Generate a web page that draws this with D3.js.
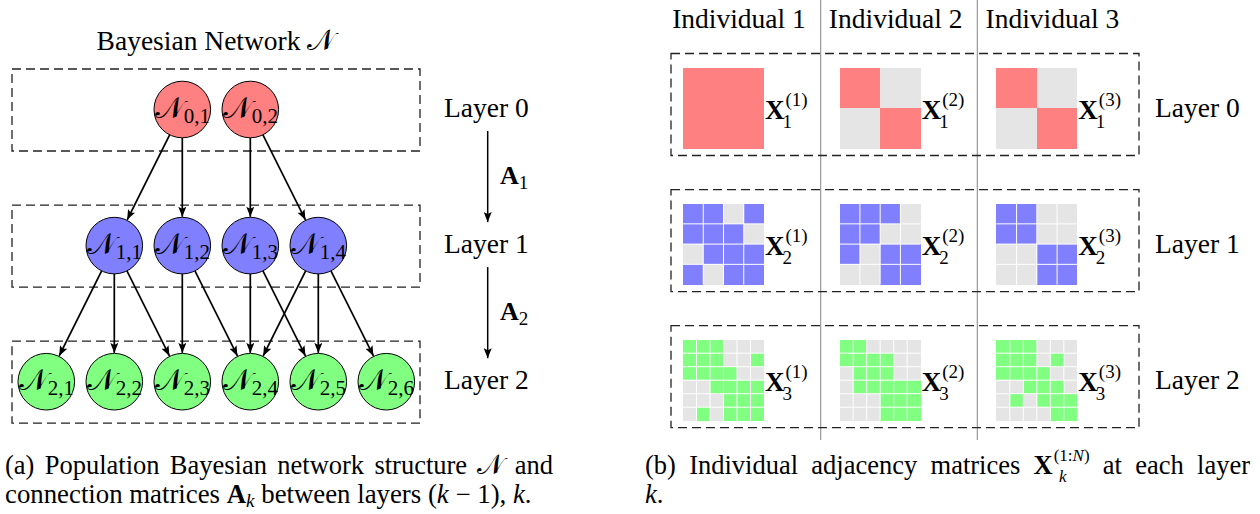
<!DOCTYPE html>
<html><head><meta charset="utf-8">
<script src="https://cdn.jsdelivr.net/npm/d3@7"></script>
<style>
body{margin:0;background:#fff}
svg{display:block}
text{fill:#000}
</style>
</head><body><svg id="c" width="1260" height="514"></svg>
<script>
// ---------------- data ----------------
const layers = ["Layer 0", "Layer 1", "Layer 2"];
const layerSizes = [2, 4, 6];
const layerColors = ["#ff8080", "#8080ff", "#80ff80"];
const offColor = "#e5e5e5";
const edgesA1 = [[1,1],[1,2],[2,3],[2,4]];
const edgesA2 = [[1,1],[1,2],[1,3],[2,3],[2,4],[3,4],[3,5],[4,4],[4,5],[4,6]];
const individuals = ["Individual 1", "Individual 2", "Individual 3"];
const X1 = [
  [[1,1],[1,1]],
  [[1,0],[0,1]],
  [[1,0],[0,1]]
];
const X2 = [
  [[1,1,0,1],[1,1,1,0],[0,1,1,1],[1,0,1,1]],
  [[1,1,1,0],[1,1,0,0],[1,0,1,1],[0,0,1,1]],
  [[1,1,0,0],[1,1,0,0],[0,0,1,1],[0,0,1,1]]
];
const X3 = [
  [[1,1,1,0,0,0],[1,1,1,0,0,1],[1,1,1,1,0,0],[0,0,1,1,1,1],[0,0,0,1,1,1],[0,1,0,1,1,1]],
  [[1,1,0,0,0,0],[1,1,1,1,0,0],[0,1,1,1,0,0],[0,1,1,1,1,1],[0,0,0,1,1,1],[0,0,0,1,1,1]],
  [[1,1,1,0,0,0],[1,1,1,0,1,0],[1,1,1,1,0,0],[0,0,1,1,1,0],[0,1,0,1,1,1],[0,0,0,0,1,1]]
];
const matrices = [X1, X2, X3];

// ---------------- helpers ----------------
const svg = d3.select("#c");
const CAL = "𝒩";
const FONT = "'Liberation Serif', 'DejaVu Serif', serif";
const BASE = 27.5;

function rich(parent, x, y, runs, anchor = "start", base = BASE, justify = null) {
  const g = parent.append("g");
  function layout(ws) {
    g.selectAll("*").remove();
    let cx = 0, prevStart = 0, prevEnd = 0;
    runs.forEach(r => {
      const size = r.s || base;
      const start = (r.stack ? prevStart : cx) + (r.dx || 0);
      const t = g.append("text")
        .attr("x", start).attr("y", r.dy || 0)
        .attr("font-size", size)
        .attr("font-weight", r.b ? "bold" : null)
        .attr("font-style", r.i ? "italic" : null)
        .attr("xml:space", "preserve")
        .style("white-space", "pre")
        .style("font-family", r.f || FONT)
        .style("word-spacing", ws ? ws + "px" : null)
        .text(r.t);
      const w = t.node().getComputedTextLength();
      if (r.stack) { cx = Math.max(prevEnd, start + w); }
      else { prevStart = start; prevEnd = start + w; cx = start + w; }
    });
    return cx;
  }
  let cx = layout(0);
  if (justify) {
    const nsp = runs.reduce((s, r) => s + (r.t.match(/ /g) || []).length, 0);
    if (nsp) cx = layout((justify - cx) / nsp);
  }
  const off = anchor === "middle" ? -cx / 2 : anchor === "end" ? -cx : 0;
  g.attr("transform", `translate(${x + off},${y})`);
  return g;
}

// ---------------- left panel: network ----------------
const R = 28.3;
const xSlot = d3.scaleLinear().domain([0, 5]).range([46.3, 386.3]);
const yLayer = d3.scalePoint().domain(layers).range([109.5, 381.7]);

const nodes = [];
layerSizes.forEach((n, k) => {
  for (let i = 1; i <= n; i++) nodes.push({ layer: k, idx: i, slot: i - 1 + (6 - n) / 2 });
});
const nodeAt = (k, i) => nodes.find(d => d.layer === k && d.idx === i);
const nx = d => xSlot(d.slot), ny = d => yLayer(layers[d.layer]);

const left = svg.append("g");

rich(left, 216, 50, [{ t: "Bayesian Network " }, { t: CAL, s: 29 }], "middle");

left.selectAll("rect.lbox").data(layers).join("rect")
  .attr("x", 12).attr("width", 408)
  .attr("y", d => yLayer(d) - 40.5).attr("height", 82)
  .attr("fill", "none").attr("stroke", "#222").attr("stroke-width", 1.3)
  .attr("stroke-dasharray", "9,5");

const defs = svg.append("defs");
defs.append("marker").attr("id", "ah")
  .attr("viewBox", "0 0 10 8").attr("refX", 10).attr("refY", 4)
  .attr("markerUnits", "userSpaceOnUse").attr("markerWidth", 10).attr("markerHeight", 8)
  .attr("orient", "auto")
  .append("path").attr("d", "M0,0 L10,4 L0,8 L2,4 Z").attr("fill", "#000");

const edges = [
  ...edgesA1.map(([a, b]) => ({ s: nodeAt(0, a), t: nodeAt(1, b) })),
  ...edgesA2.map(([a, b]) => ({ s: nodeAt(1, a), t: nodeAt(2, b) }))
];
left.selectAll("line.edge").data(edges).join("line")
  .each(function (d) {
    const x1 = nx(d.s), y1 = ny(d.s), x2 = nx(d.t), y2 = ny(d.t);
    const L = Math.hypot(x2 - x1, y2 - y1), ux = (x2 - x1) / L, uy = (y2 - y1) / L;
    d3.select(this)
      .attr("x1", x1 + ux * R).attr("y1", y1 + uy * R)
      .attr("x2", x2 - ux * (R + 0.5)).attr("y2", y2 - uy * (R + 0.5));
  })
  .attr("stroke", "#000").attr("stroke-width", 1.7).attr("marker-end", "url(#ah)");

left.selectAll("circle.node").data(nodes).join("circle")
  .attr("cx", nx).attr("cy", ny).attr("r", R)
  .attr("fill", d => layerColors[d.layer]).attr("stroke", "#000").attr("stroke-width", 1);

nodes.forEach(d => {
  rich(left, nx(d), ny(d) + 8, [{ t: CAL, s: 30 }, { t: `${d.layer},${d.idx}`, s: 21, dy: 5 }], "middle");
});

layers.forEach(l => rich(left, 444, yLayer(l) + 7, [{ t: l }]));
const aLabels = ["1", "2"];
aLabels.forEach((a, i) => {
  const y0 = yLayer(layers[i]), y1 = yLayer(layers[i + 1]);
  left.append("line").attr("x1", 487.7).attr("x2", 487.7)
    .attr("y1", y0 + 21.5).attr("y2", y1 - 23.5)
    .attr("stroke", "#000").attr("stroke-width", 1.5).attr("marker-end", "url(#ah)");
  rich(left, 500, (y0 + y1) / 2 + 6, [{ t: "A", b: true, s: 26 }, { t: a, s: 19, dy: 5 }]);
});

rich(left, 5, 474, [{ t: "(a) Population Bayesian network structure " }, { t: CAL, s: 28 }, { t: " and" }], "start", 26.5, 548);
rich(left, 5, 503, [{ t: "connection matrices " }, { t: "A", b: true }, { t: "k", i: true, s: 19, dy: 4 },
  { t: " between layers (" }, { t: "k", i: true }, { t: " − 1), " }, { t: "k", i: true }, { t: "." }], "start", 26.8);

// ---------------- right panel: matrices ----------------
const right = svg.append("g");
const xInd = d3.scaleBand().domain(individuals).range([664, 1134]);
const MS = 81;

right.selectAll("line.sep").data(individuals.slice(1)).join("line")
  .attr("x1", d => xInd(d)).attr("x2", d => xInd(d))
  .attr("y1", 0).attr("y2", 440).attr("stroke", "#999").attr("stroke-width", 1.2);

individuals.forEach(d => rich(right, xInd(d) + 75, 28, [{ t: d }], "middle"));

right.selectAll("rect.rbox").data(layers).join("rect")
  .attr("x", 671).attr("width", 468)
  .attr("y", d => yLayer(d) - 56).attr("height", 102)
  .attr("fill", "none").attr("stroke", "#222").attr("stroke-width", 1.3)
  .attr("stroke-dasharray", "9,5");

layers.forEach((l, k) => {
  individuals.forEach((ind, j) => {
    const M = matrices[k][j];
    const n = M.length;
    const cell = d3.scaleBand().domain(d3.range(n)).range([0, MS]);
    const x0 = xInd(ind) + 19, y0 = yLayer(l) - 42;
    const g = right.append("g").attr("transform", `translate(${x0},${y0})`);
    const cells = M.flatMap((row, r) => row.map((v, c) => ({ r, c, v })));
    g.selectAll("rect").data(cells).join("rect")
      .attr("x", d => cell(d.c)).attr("y", d => cell(d.r))
      .attr("width", cell.bandwidth()).attr("height", cell.bandwidth())
      .attr("fill", d => d.v ? layerColors[k] : offColor)
      .attr("shape-rendering", "crispEdges");
    if (n > 2) {
      const b = d3.range(1, n);
      g.selectAll("line.v").data(b).join("line")
        .attr("x1", d => cell(d)).attr("x2", d => cell(d)).attr("y1", 0).attr("y2", MS)
        .attr("stroke", "#fff").attr("stroke-width", 1);
      g.selectAll("line.h").data(b).join("line")
        .attr("y1", d => cell(d)).attr("y2", d => cell(d)).attr("x1", 0).attr("x2", MS)
        .attr("stroke", "#fff").attr("stroke-width", 1);
    }
    rich(right, x0 + MS + 1, yLayer(l) + 9, [
      { t: "X", b: true, s: 27 },
      { t: `(${j + 1})`, s: 19, dy: -13, dx: 1 },
      { t: `${k + 1}`, s: 19, dy: 9, stack: true, dx: -3 }
    ]);
  });
  rich(right, 1155, yLayer(l) + 7, [{ t: l }]);
});

rich(right, 645, 474, [{ t: "(b) Individual adjacency matrices " }, { t: "X", b: true },
  { t: "(1:", s: 17, dy: -13, dx: 1 }, { t: "N", s: 17, dy: -13, i: true }, { t: ")", s: 17, dy: -13 },
  { t: "k", s: 17, dy: 8, i: true, stack: true, dx: -25 }, { t: " at each layer" }], "start", 26.5, 605);
rich(right, 645, 503, [{ t: "k", i: true }, { t: "." }], "start", 26.5);
</script>
</body></html>
